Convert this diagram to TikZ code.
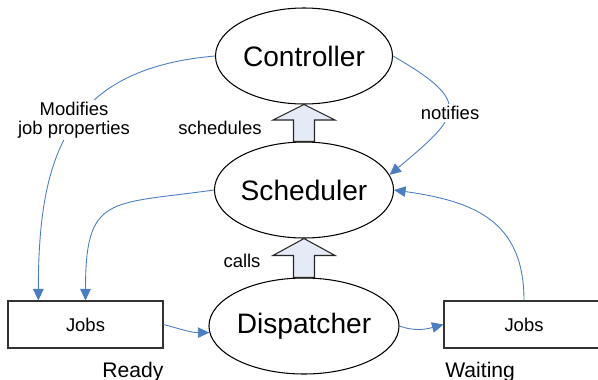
\documentclass[tikz,border=0pt]{standalone}
\usepackage{fontspec}
\setmainfont{Liberation Sans}
\usetikzlibrary{positioning,arrows.meta,shapes.geometric,calc}
\definecolor{linkblue}{RGB}{74,126,193}
\definecolor{arrowfill}{RGB}{229,234,246}

\begin{document}
\begin{tikzpicture}[
  state/.style={draw,ellipse,line width=0.6pt,fill=white,minimum width=3.54cm,
    minimum height=1.92cm,inner sep=0pt,font=\fontsize{16}{19}\selectfont},
  queue/.style={draw=black!80,line width=0.6pt,minimum width=3.10cm,
    minimum height=0.94cm,inner sep=0pt,font=\fontsize{10.5}{12}\selectfont},
  lbl/.style={font=\fontsize{10.5}{12.5}\selectfont,align=center,inner sep=1pt},
  flow/.style={-{Triangle[length=0.23cm,width=0.21cm]},draw=linkblue,line width=0.5pt},
  fatarrow/.style={draw=black!85,fill=arrowfill,line width=0.6pt}]
\useasboundingbox (0,0) rectangle (11.96,7.58);
% states
\node[state] (ctrl) at (6.08,6.46) {Controller};
\node[state] (sched) at (6.08,3.78) {Scheduler};
\node[state] (disp) at (6.08,1.06) {Dispatcher};
% job queues (the right one runs off the page)
\node[queue] (jobsA) at (1.71,1.09) {Jobs};
\node[queue,minimum width=3.2cm] (jobsB) at (10.48,1.09) {Jobs};
\node[font=\fontsize{12}{14}\selectfont,anchor=base west,inner sep=0pt] (ready) at (2.04,0.04) {Ready};
\node[font=\fontsize{12}{14}\selectfont,anchor=base west,inner sep=0pt] (waiting) at (8.90,0.04) {Waiting};
% hollow arrows between the states
\draw[fatarrow] ($(sched.north)+(-0.21,0)$) -- ++(0,0.43) -- ++(-0.41,0) -- (ctrl.south)
  -- ($(sched.north)+(0.62,0.43)$) -- ++(-0.41,0) -- ($(sched.north)+(0.21,0)$) -- cycle;
\draw[fatarrow] ($(disp.north)+(-0.21,0)$) -- ++(0,0.44) -- ++(-0.41,0) -- (sched.south)
  -- ($(disp.north)+(0.62,0.44)$) -- ++(-0.41,0) -- ($(disp.north)+(0.21,0)$) -- cycle;
\node[lbl] (schedules) at (4.40,5.02) {schedules};
\node[lbl] (calls) at (4.84,2.36) {calls};
% blue links
\draw[flow] (ctrl.west) to[out=185,in=90,looseness=1.25] (jobsA.153);
\draw[flow] (sched.west) to[out=188,in=90,looseness=1.6] (jobsA.north);
\draw[flow] (ctrl.east) to[out=-30,in=40,looseness=2] (sched.10);
\draw[flow] (jobsB.north) to[out=90,in=-8,looseness=1.2] (sched.east);
\draw[flow] (jobsA.east) to[out=-15,in=180] (disp.184);
\draw[flow] (disp.east) to[out=-20,in=195] (jobsB.west);
\node[lbl,fill=white] (modifies) at (1.48,5.18) {Modifies\\[-1.5pt]job properties};
\node[lbl,fill=white] (notifies) at (9.00,5.32) {notifies};
\end{tikzpicture}
\end{document}
